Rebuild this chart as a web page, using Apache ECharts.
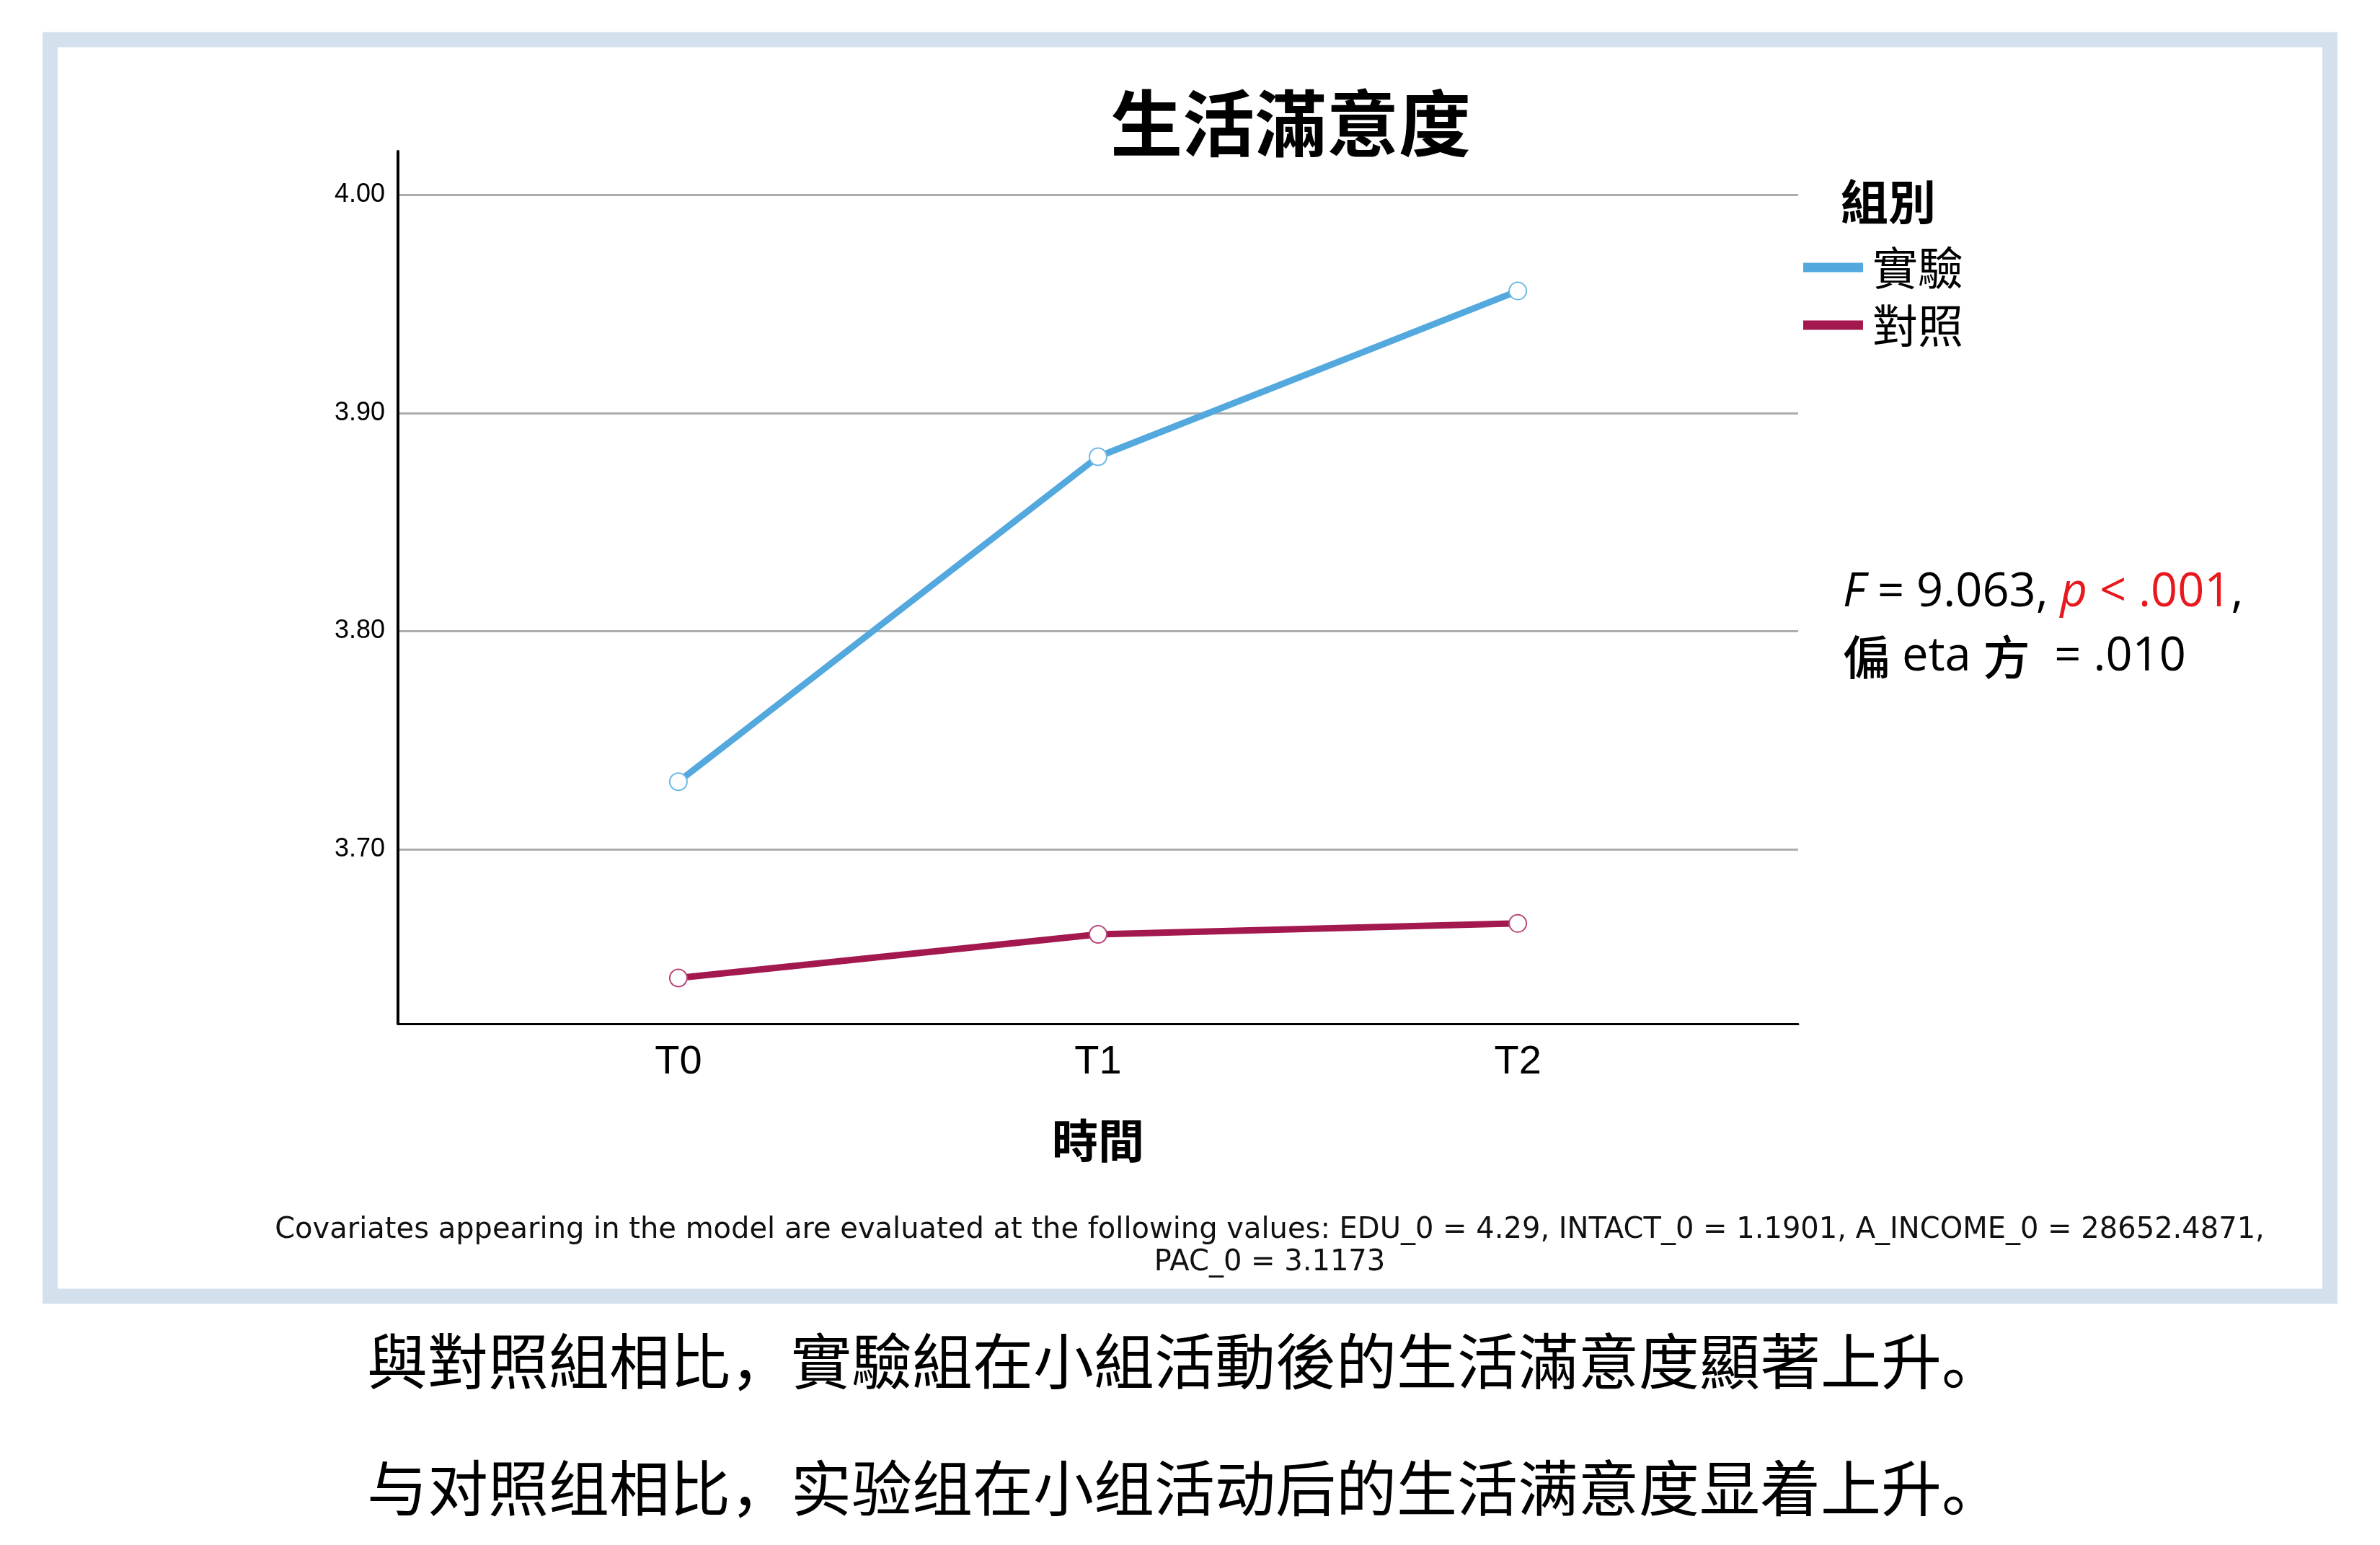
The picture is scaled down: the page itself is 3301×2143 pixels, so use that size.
<!DOCTYPE html>
<html>
<head>
<meta charset="utf-8">
<script src="https://cdn.jsdelivr.net/npm/echarts@6/dist/echarts.min.js"></script>
<style>
html,body{margin:0;padding:0;background:#fff;}
#main{width:3301px;height:2143px;}
</style>
</head>
<body>
<div id="main"></div>
<script>
// ---- data ----
const titleText = '生活滿意度';
const categories = ['T0', 'T1', 'T2'];
const seriesNames = ['實驗', '對照'];
const expValues = [3.731, 3.880, 3.956];
const ctrlValues = [3.641, 3.661, 3.666];
const yTicks = [3.70, 3.80, 3.90, 4.00];
const xAxisName = '時間';
const legendTitle = '組別';
const statLine1 = ['F', ' = 9.063, ', 'p', ' < .001', ','];
const statLine2 = ['偏', ' eta ', '方', '  = .010'];
const covariatesLine1 = 'Covariates appearing in the model are evaluated at the following values: EDU_0 = 4.29, INTACT_0 = 1.1901, A_INCOME_0 = 28652.4871,';
const covariatesLine2 = 'PAC_0 = 3.1173';
const captionTC = ['與對照組相比', '，', '實驗組在小組活動後的生活滿意度顯著上升', '。'];
const captionSC = '与对照组相比，实验组在小组活动后的生活满意度显着上升。';

const blue = '#53A8DE';
const red = '#A3194F';
const seriesColors = [blue, red];

const toPoints = vals => vals.map((v, i) => [i, v]);

const chart = echarts.init(document.getElementById('main'), null, {renderer: 'canvas'});
chart.setOption({
  backgroundColor: '#ffffff',
  animation: false,
  grid: {left: 552, right: 807, top: 210, bottom: 723, containLabel: false},
  xAxis: {
    type: 'value',
    min: -0.668, max: 2.668,
    name: xAxisName,
    nameLocation: 'middle',
    nameGap: 130,
    nameTextStyle: {fontFamily: 'Noto Sans CJK TC', fontWeight: 'bold', fontSize: 64, color: '#000'},
    axisLine: {show: true, onZero: false, lineStyle: {color: '#000', width: 3}},
    axisTick: {show: false, customValues: [0, 1, 2]},
    axisLabel: {
      customValues: [0, 1, 2],
      formatter: v => categories[Math.round(v)] || '',
      fontFamily: 'Liberation Sans', fontSize: 56, color: '#000', margin: 26
    },
    splitLine: {show: false}
  },
  yAxis: {
    type: 'value',
    min: 3.62, max: 4.02,
    axisLine: {show: true, onZero: false, lineStyle: {color: '#000', width: 4}},
    axisTick: {show: false, customValues: yTicks},
    axisLabel: {
      customValues: yTicks,
      formatter: v => Number(v).toFixed(2),
      fontFamily: 'Liberation Sans', fontSize: 36, color: '#000', margin: 18,
      padding: [8, 0, 0, 0]
    },
    splitLine: {show: true, lineStyle: {color: '#ADADAD', width: 3}}
  },
  legend: {
    data: seriesNames.map((n, i) => ({name: n, itemStyle: {color: seriesColors[i]}})),
    orient: 'vertical',
    left: 2496, top: 333,
    icon: 'rect',
    itemWidth: 83, itemHeight: 13, itemGap: 14,
    textStyle: {fontFamily: 'Noto Sans CJK TC', fontSize: 63, lineHeight: 66, color: '#000', padding: [0, 0, 0, 8]}
  },
  series: [
    {
      name: seriesNames[0], type: 'line', data: toPoints(expValues),
      symbol: 'emptyCircle', symbolSize: 24,
      lineStyle: {color: blue, width: 9},
      itemStyle: {color: '#6DB8E6', borderWidth: 3}
    },
    {
      name: seriesNames[1], type: 'line', data: toPoints(ctrlValues),
      symbol: 'emptyCircle', symbolSize: 24,
      lineStyle: {color: red, width: 9},
      itemStyle: {color: '#B8477A', borderWidth: 3}
    }
  ],
  graphic: [
    {type: 'rect', silent: true, z: -1,
      shape: {x: 69.5, y: 55, width: 3162, height: 1743},
      style: {fill: 'none', stroke: '#D5E0EE', lineWidth: 21}},
    {type: 'text', style: {x: 1790, y: 171, text: titleText, align: 'center', verticalAlign: 'middle',
      fontFamily: 'Noto Sans CJK TC', fontWeight: 'bold', fontSize: 100, fill: '#000'}},
    {type: 'text', style: {x: 2553, y: 280, text: legendTitle, align: 'left', verticalAlign: 'middle',
      fontFamily: 'Noto Sans CJK TC', fontWeight: 'bold', fontSize: 66, fill: '#000'}},
    {type: 'text', style: {x: 2556, y: 822, verticalAlign: 'middle', align: 'left',
      text: '{fi|' + statLine1[0] + '}{n|' + statLine1[1] + '}{pi|' + statLine1[2] + '}{r|' + statLine1[3] + '}{n|' + statLine1[4] + '}',
      rich: {
        fi: {fontFamily: 'Open Sans', fontStyle: 'italic', fontSize: 65, fill: '#000'},
        n: {fontFamily: 'Open Sans', fontSize: 65, fill: '#000'},
        pi: {fontFamily: 'Open Sans', fontStyle: 'italic', fontSize: 65, fill: '#E8191E'},
        r: {fontFamily: 'Open Sans', fontSize: 65, fill: '#E8191E'}
      }}},
    {type: 'text', style: {x: 2556, y: 911, verticalAlign: 'middle', align: 'left',
      text: '{c|' + statLine2[0] + '}{n|' + statLine2[1] + '}{c|' + statLine2[2] + '}{n|' + statLine2[3] + '}',
      rich: {
        c: {fontFamily: 'Noto Sans CJK TC', fontWeight: 500, fontSize: 65, fill: '#000'},
        n: {fontFamily: 'Open Sans', fontSize: 65, fill: '#000'}
      }}},
    {type: 'text', style: {x: 1761, y: 1707, text: covariatesLine1, align: 'center', verticalAlign: 'middle',
      fontFamily: 'DejaVu Sans', fontSize: 40, fill: '#111'}},
    {type: 'text', style: {x: 1761, y: 1752, text: covariatesLine2, align: 'center', verticalAlign: 'middle',
      fontFamily: 'DejaVu Sans', fontSize: 40, fill: '#111'}},
    {type: 'text', style: {x: 1643, y: 1888, align: 'center', verticalAlign: 'middle',
      text: '{t|' + captionTC[0] + '}{p|' + captionTC[1] + '}{t|' + captionTC[2] + '}{p|' + captionTC[3] + '}',
      rich: {
        t: {fontFamily: 'Noto Sans CJK TC', fontSize: 84, fill: '#000'},
        p: {fontFamily: 'Noto Sans CJK SC', fontSize: 84, fill: '#000'}
      }}},
    {type: 'text', style: {x: 1643, y: 2064, text: captionSC, align: 'center', verticalAlign: 'middle',
      fontFamily: 'Noto Sans CJK SC', fontSize: 84, fill: '#000'}}
  ]
});
</script>
</body>
</html>
